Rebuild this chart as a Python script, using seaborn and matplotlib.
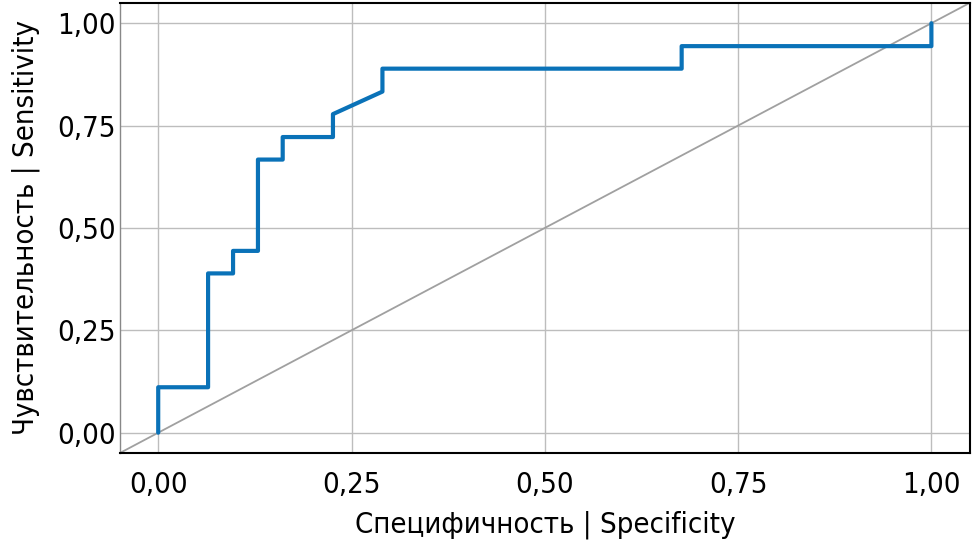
import numpy as np
import pandas as pd
import matplotlib
matplotlib.use('Agg')
import matplotlib.pyplot as plt
import seaborn as sns

# ROC curve points (1 - specificity on x, sensitivity on y)
specificity = [0.0, 0.0, 0.0645, 0.0645, 0.0968, 0.0968, 0.129, 0.129, 0.161, 0.161,
               0.226, 0.226, 0.290, 0.290, 0.677, 0.677, 1.0, 1.0]
sensitivity = [0.0, 0.111, 0.111, 0.389, 0.389, 0.444, 0.444, 0.667, 0.667, 0.722,
               0.722, 0.778, 0.833, 0.889, 0.889, 0.944, 0.944, 1.0]
tick_vals = [0.0, 0.25, 0.5, 0.75, 1.0]
tick_labels = ['0,00', '0,25', '0,50', '0,75', '1,00']

df = pd.DataFrame({'spec': specificity, 'sens': sensitivity})

sns.set_style('white')
plt.rcParams['font.family'] = ['DejaVu Sans']
plt.rcParams['font.stretch'] = 'condensed'
plt.rcParams['text.color'] = 'black'
plt.rcParams['axes.labelcolor'] = 'black'
plt.rcParams['xtick.color'] = 'black'
plt.rcParams['ytick.color'] = 'black'

fig, ax = plt.subplots(figsize=(9.72, 5.46), dpi=100)
ax.grid(True, color='#bdbdbd', linewidth=1)
ax.set_axisbelow(True)

ax.axline((0, 0), (1, 1), color='#a0a0a0', linewidth=1.3, zorder=2)
sns.lineplot(data=df, x='spec', y='sens', sort=False, estimator=None,
             color='#0a72b8', linewidth=3, ax=ax, zorder=3)

ax.set_xlim(-0.05, 1.05)
ax.set_ylim(-0.05, 1.05)
ax.set_xticks(tick_vals)
ax.set_xticklabels(tick_labels)
ax.set_yticks(tick_vals)
ax.set_yticklabels(tick_labels)
ax.tick_params(axis='x', length=5, width=1.2, labelsize=21, pad=8)
ax.tick_params(axis='y', length=0, labelsize=21, pad=3)

ax.set_xlabel('Специфичность | Specificity', fontsize=21, labelpad=8)
ax.set_ylabel('Чувствительность | Sensitivity', fontsize=21, labelpad=12)

for side in ['top', 'right', 'bottom']:
    ax.spines[side].set_color('black')
    ax.spines[side].set_linewidth(1.5)
ax.spines['left'].set_color('#888888')
ax.spines['left'].set_linewidth(1)

fig.subplots_adjust(left=0.123, right=0.998, top=0.995, bottom=0.17)
fig.savefig('out.png', dpi=100)
